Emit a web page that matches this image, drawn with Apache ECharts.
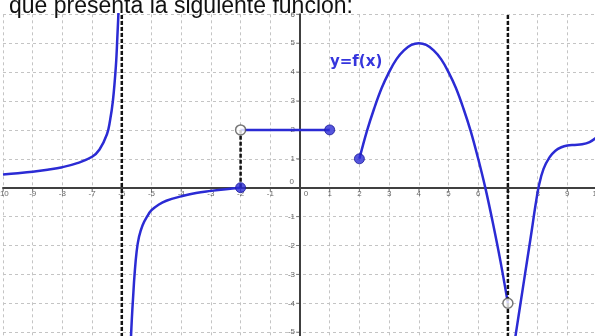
<!DOCTYPE html>
<html>
<head>
<meta charset="utf-8">
<script src="https://cdn.jsdelivr.net/npm/echarts@6/dist/echarts.min.js"></script>
<style>
html,body{margin:0;padding:0;background:#fff;}
#chart{width:595px;height:336px;}
</style>
</head>
<body>
<div id="chart"></div>
<script>
// Data
const headerText = 'que presenta la siguiente función:';
const curveLabel = 'y=f(x)';
const xRange = [-10, 11];   // x axis range (ticks every 1)
const yRange = [-6, 6];     // y axis range (ticks every 1)
const xTickLabels = [-10,-9,-8,-7,-6,-5,-4,-3,-2,-1,0,1,2,3,4,5,6,7,8,9,10];
const yTickLabels = [-5,-4,-3,-2,-1,0,1,2,3,4,5,6];

const branchLeft = [[-10,0.46],[-9.5,0.5],[-9,0.55],[-8.5,0.62],[-8,0.71],[-7.5,0.85],[-7,1.07],[-6.75,1.32],[-6.5,1.85],[-6.4,2.3],[-6.3,3.0],[-6.2,4.2],[-6.15,5.2],[-6.1,6.4],[-6.07,7.5]];
const branchMid = [[-5.71,-5.6],[-5.66,-4.5],[-5.62,-3.8],[-5.57,-3.0],[-5.5,-2.2],[-5.42,-1.7],[-5.3,-1.3],[-5.15,-1.0],[-5.0,-0.78],[-4.75,-0.58],[-4.5,-0.45],[-4.0,-0.3],[-3.5,-0.18],[-3.0,-0.11],[-2.5,-0.05],[-2.0,0]];
const stepSegment = [[-2,2],[1,2]];
const branchHill = [[2,1],[2.25,1.95],[2.5,2.75],[2.75,3.45],[3,4.0],[3.25,4.45],[3.5,4.75],[3.75,4.94],[4,5.0],[4.25,4.94],[4.5,4.75],[4.75,4.45],[5,4.0],[5.25,3.45],[5.5,2.75],[5.75,1.95],[6,1.0],[6.25,-0.05],[6.5,-1.25],[6.75,-2.55],[7,-4]];
const branchRight = [[7.2,-5.5],[7.35,-4.5],[7.5,-3.5],[7.65,-2.5],[7.8,-1.5],[7.93,-0.6],[8.05,0.1],[8.2,0.65],[8.4,1.05],[8.6,1.28],[8.8,1.4],[9,1.46],[9.25,1.48],[9.5,1.5],[9.75,1.58],[10,1.75],[10.2,1.95]];
const asymptotes = [-6, 7];
const jumpLine = [[-2,0],[-2,2]];
const filledPoints = [[-2,0],[1,2],[2,1]];
const openPoints = [[-2,2],[7,-4]];

const BLUE = '#2b2bd4';
const LABEL_COLOR = '#444';
const chart = echarts.init(document.getElementById('chart'), null, {renderer:'canvas'});

const curve = (data) => ({
  type:'line', data, smooth:0.4, showSymbol:false,
  lineStyle:{color:BLUE, width:2.5}, z:3, silent:true
});
const dashed = (data) => ({
  type:'line', data, showSymbol:false,
  lineStyle:{color:'#111', width:2.5, type:[4,2]}, z:4, silent:true
});

const xLabelData = xTickLabels.map(v => ({
  value:[v,0],
  label:{offset: v===0 ? [6,6] : [0,6.5]}
}));
const yLabelData = yTickLabels.map(v => ({
  value:[0,v],
  label:{offset: v===0 ? [-6,-6] : [-5,0]}
}));

const series = [
  curve(branchLeft), curve(branchMid), curve(branchHill), curve(branchRight),
  {type:'line', data:stepSegment, showSymbol:false, lineStyle:{color:BLUE,width:2.5}, z:3},
  ...asymptotes.map(a => dashed([[a, yRange[0]],[a, yRange[1]]])),
  dashed(jumpLine),
  // tick marks
  {type:'scatter', data:xTickLabels.filter(v=>v!==0).map(v=>[v,0]), symbol:'rect', symbolSize:[1,3], symbolOffset:[0,2.5], itemStyle:{color:'#666'}, z:2, silent:true},
  {type:'scatter', data:yTickLabels.filter(v=>v!==0).map(v=>[0,v]), symbol:'rect', symbolSize:[3,1], symbolOffset:[-2.5,0], itemStyle:{color:'#666'}, z:2, silent:true},
  // tick labels
  {type:'scatter', data:xLabelData, symbolSize:1, itemStyle:{color:'rgba(0,0,0,0)'}, z:2, silent:true,
    label:{show:true, position:'inside', formatter:(p)=>String(p.value[0]), fontSize:8, color:LABEL_COLOR, fontFamily:'Liberation Sans', align:'center', verticalAlign:'middle'}},
  {type:'scatter', data:yLabelData, symbolSize:1, itemStyle:{color:'rgba(0,0,0,0)'}, z:2, silent:true,
    label:{show:true, position:'inside', formatter:(p)=>String(p.value[1]), fontSize:8, color:LABEL_COLOR, fontFamily:'Liberation Sans', align:'right', verticalAlign:'middle'}},
  {type:'scatter', data:filledPoints, symbolSize:10, itemStyle:{color:BLUE, borderColor:'#1a1a9a', borderWidth:1}, z:6},
  {type:'scatter', data:openPoints, symbolSize:10, itemStyle:{color:'#fff', borderColor:'#555', borderWidth:1.5}, z:6}
];

const ux = 29.7, uy = 28.9, ox = 300, oy = 187.7;
chart.setOption({
  animation:false,
  backgroundColor:'#fff',
  grid:{left: ox + xRange[0]*ux, width:(xRange[1]-xRange[0])*ux, top: oy - yRange[1]*uy, height:(yRange[1]-yRange[0])*uy, containLabel:false,
        outerBounds:{left:-100, top:-100, right:-100, bottom:-100}},
  xAxis:{type:'value', min:xRange[0], max:xRange[1], interval:1,
    axisLine:{onZero:true, lineStyle:{color:'#404040', width:2}},
    axisTick:{show:false}, axisLabel:{show:false},
    splitLine:{show:true, lineStyle:{color:'#c4c4c4', width:1, type:[3,3]}}
  },
  yAxis:{type:'value', min:yRange[0], max:yRange[1], interval:1,
    axisLine:{onZero:true, lineStyle:{color:'#404040', width:2}},
    axisTick:{show:false}, axisLabel:{show:false},
    splitLine:{show:true, lineStyle:{color:'#c4c4c4', width:1, type:[3,3]}}
  },
  graphic:[
    {type:'text', left:9, top:-5, z:10, style:{text:headerText, font:'23px "Liberation Sans", Arial, sans-serif', fill:'#111'}},
    {type:'text', x:330, y:62, z:10, style:{text:curveLabel, font:'bold 15px "DejaVu Sans", sans-serif', fill:'#3535dd', verticalAlign:'middle'}}
  ],
  series
});
</script>
</body>
</html>
